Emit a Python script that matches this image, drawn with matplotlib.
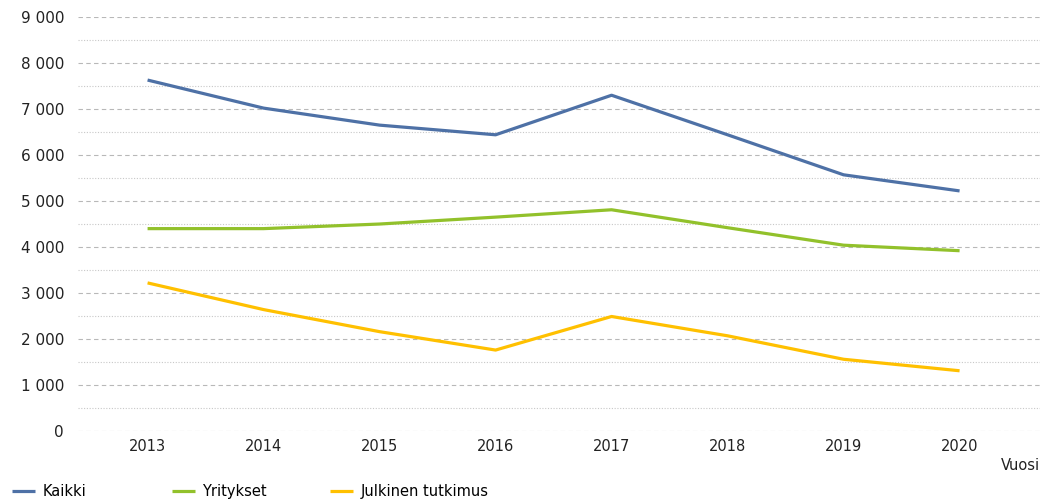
import matplotlib.pyplot as plt
from matplotlib.ticker import FuncFormatter, MultipleLocator

years = ["2013", "2014", "2015", "2016", "2017", "2018", "2019", "2020"]
kaikki = [7630, 7020, 6650, 6440, 7300, 6440, 5570, 5220]
yritykset = [4400, 4400, 4500, 4650, 4810, 4420, 4040, 3920]
julkinen = [3220, 2640, 2160, 1760, 2490, 2070, 1560, 1310]

series = [
    ("Kaikki", kaikki, "#4e71a6"),
    ("Yritykset", yritykset, "#92c12b"),
    ("Julkinen tutkimus", julkinen, "#ffc000"),
]

plt.rcParams["font.family"] = "DejaVu Sans"
fig = plt.figure(figsize=(10.48, 5.04), dpi=100)
ax = fig.add_axes([0.0744, 0.1448, 0.9176, 0.8214])

x = list(range(len(years)))
lines = []
for label, vals, color in series:
    ln, = ax.plot(x, vals, color=color, lw=2.3, label=label,
                  solid_joinstyle="round", solid_capstyle="butt")
    lines.append(ln)

ax.set_xlim(-0.6, 7.69)
ax.set_ylim(0, 9000)
ax.set_xticks(x)
ax.set_xticklabels(years, fontsize=10.5, color="#222222")
ax.yaxis.set_major_locator(MultipleLocator(1000))
ax.yaxis.set_minor_locator(MultipleLocator(500))
ax.yaxis.set_major_formatter(
    FuncFormatter(lambda v, p: f"{int(v):,}".replace(",", " ")))
ax.tick_params(axis="y", labelsize=11, colors="#222222", length=0, pad=10)
ax.tick_params(axis="x", length=0, pad=6)
ax.tick_params(which="minor", length=0)
ax.grid(which="major", axis="y", color="#b8b8b8", ls=(0, (4, 3)), lw=0.8)
ax.grid(which="minor", axis="y", color="#c8c8c8", ls=(0, (1, 1.5)), lw=0.8)
ax.set_axisbelow(True)
for s in ax.spines.values():
    s.set_visible(False)

fig.text(0.992, 0.077, "Vuosi", ha="right", va="center", fontsize=10.5,
         color="#222222")

xs = [0.011, 0.164, 0.315]
for ln, xpos in zip(lines, xs):
    fig.legend([ln], [ln.get_label()], loc="center left",
               bbox_to_anchor=(xpos, 0.024), frameon=False, fontsize=10.5,
               handlelength=1.6, handletextpad=0.5, borderaxespad=0,
               borderpad=0)

fig.savefig("out.png", dpi=100)
